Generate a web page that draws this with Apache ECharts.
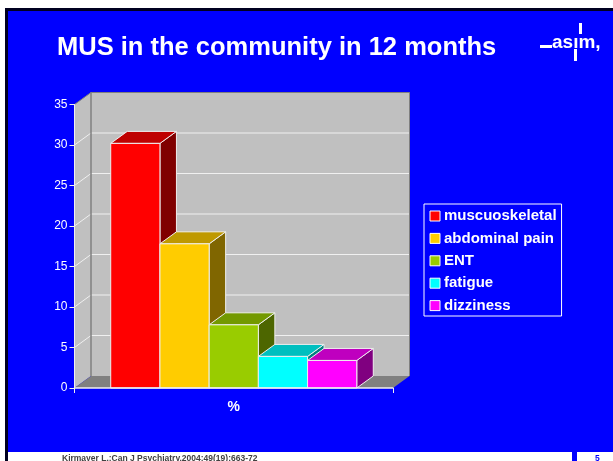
<!DOCTYPE html>
<html>
<head>
<meta charset="utf-8">
<style>html,body{margin:0;padding:0;background:#fff}#chart{width:613px;height:461px}</style>
<script src="https://cdn.jsdelivr.net/npm/echarts@6/dist/echarts.min.js"></script>
</head>
<body>
<div id="chart"></div>
<script>
// Symptom shares, percent of respondents over 12 months
const categories = ['%'];
const symptomNames = ['muscuoskeletal', 'abdominal pain', 'ENT', 'fatigue', 'dizziness'];
const symptomValues = [30.2, 17.8, 7.8, 3.9, 3.4];
const faceColors = ['#ff0000', '#ffcc00', '#99cc00', '#00ffff', '#ff00ff'];
const topColors = ['#bf0000', '#bf9900', '#739900', '#00bfbf', '#bf00bf'];
const sideColors = ['#800000', '#806600', '#4d6600', '#008080', '#800080'];
const yTicks = [0, 5, 10, 15, 20, 25, 30, 35];

// Oblique projection offset of the box depth
const DX = 16.5, DY = -12;
const FONT = '"Liberation Sans", Arial, sans-serif';
const EDGE = '#eeeeee';

function poly(points, fill, stroke, width) {
  return {
    type: 'polygon',
    shape: { points: points },
    style: { fill: fill, stroke: stroke || null, lineWidth: width || 0 }
  };
}
function line(x1, y1, x2, y2, stroke, width) {
  return {
    type: 'line',
    shape: { x1: x1, y1: y1, x2: x2, y2: y2 },
    style: { stroke: stroke, lineWidth: width }
  };
}

// Walls, floor and gridlines of the 3D box behind the bars
function renderBox(params, api) {
  const band = api.size([1, 0])[0];
  const cx = api.coord([0, 0])[0];
  const left = cx - band / 2, right = cx + band / 2;
  const y0 = api.coord([0, 0])[1];
  const yTop = api.coord([0, yTicks[yTicks.length - 1]])[1];
  const kids = [
    poly([[left + DX, yTop + DY], [right + DX, yTop + DY], [right + DX, y0 + DY], [left + DX, y0 + DY]], '#c0c0c0'),
    poly([[left, yTop], [left + DX, yTop + DY], [left + DX, y0 + DY], [left, y0]], '#c0c0c0'),
    poly([[left, y0], [left + DX, y0 + DY], [right + DX, y0 + DY], [right, y0]], '#808080')
  ];
  yTicks.slice(1, -1).forEach(function (t) {
    const y = api.coord([0, t])[1];
    kids.push(line(left, y, left + DX, y + DY, '#f0f0f0', 1));
    kids.push(line(left + DX, y + DY, right + DX, y + DY, '#f0f0f0', 1));
  });
  kids.push(line(left + DX, yTop + DY, left + DX, y0 + DY, '#808080', 1.5));
  kids.push(line(right + DX, yTop + DY, right + DX, y0 + DY, '#808080', 1));
  kids.push(line(left + DX, yTop + DY, right + DX, yTop + DY, '#808080', 1));
  kids.push(line(left, yTop, left + DX, yTop + DY, '#808080', 1));
  return { type: 'group', children: kids };
}

// One extruded bar: front, top and side faces
function barRenderer(index) {
  return function (params, api) {
    const band = api.size([1, 0])[0];
    const w = band * 0.1545;
    const base = api.coord([api.value(0), 0]);
    const top = api.coord([api.value(0), api.value(1)]);
    const x0 = base[0] + (index - symptomNames.length / 2) * w;
    const x1 = x0 + w;
    return {
      type: 'group',
      children: [
        poly([[x1, top[1]], [x1 + DX, top[1] + DY], [x1 + DX, base[1] + DY], [x1, base[1]]], sideColors[index], EDGE, 1),
        poly([[x0, top[1]], [x0 + DX, top[1] + DY], [x1 + DX, top[1] + DY], [x1, top[1]]], topColors[index], EDGE, 1),
        poly([[x0, top[1]], [x1, top[1]], [x1, base[1]], [x0, base[1]]], faceColors[index], EDGE, 1)
      ]
    };
  };
}

const barSeries = symptomNames.map(function (name, i) {
  return {
    name: name,
    type: 'custom',
    z: 5 + i,
    clip: false,
    silent: true,
    itemStyle: { color: faceColors[i] },
    renderItem: barRenderer(i),
    encode: { x: 0, y: 1 },
    data: [[categories[0], symptomValues[i]]]
  };
});

const chart = echarts.init(document.getElementById('chart'), null, { renderer: 'canvas' });
chart.setOption({
  animation: false,
  backgroundColor: '#ffffff',
  textStyle: { fontFamily: FONT },
  title: [
    {
      text: 'MUS in the community in 12 months',
      left: 57, top: 35, padding: 0,
      textStyle: { color: '#ffffff', fontSize: 25.5, fontWeight: 'bold', fontFamily: FONT }
    },
    {
      text: 'Kirmayer L.:Can J Psychiatry,2004:49(19):663-72',
      left: 62, top: 454, padding: 0,
      textStyle: { color: '#404040', fontSize: 8.5, fontWeight: 'bold', fontFamily: FONT }
    },
    {
      text: '5',
      left: 595, top: 454, padding: 0,
      textStyle: { color: '#0000ff', fontSize: 8.5, fontWeight: 'bold', fontFamily: FONT }
    }
  ],
  graphic: [
    // Slide frame and panel
    { type: 'rect', z: -10, shape: { x: 5, y: 8, width: 608, height: 453 }, style: { fill: '#000020' } },
    { type: 'rect', z: -9, shape: { x: 8, y: 11, width: 605, height: 441 }, style: { fill: '#0000ff' } },
    { type: 'rect', z: -9, shape: { x: 8, y: 452, width: 605, height: 9 }, style: { fill: '#ffffff' } },
    { type: 'rect', z: -9, shape: { x: 572, y: 452, width: 5, height: 9 }, style: { fill: '#0000ff' } },
    // Society logo
    { type: 'rect', z: 20, shape: { x: 540, y: 45, width: 12, height: 3 }, style: { fill: '#ffffff' } },
    { type: 'rect', z: 20, shape: { x: 579, y: 23, width: 3, height: 11 }, style: { fill: '#ffffff' } },
    { type: 'rect', z: 20, shape: { x: 574, y: 49, width: 3, height: 12 }, style: { fill: '#ffffff' } },
    {
      type: 'text', z: 20, x: 552, y: 33,
      style: { text: 'asım,', fill: '#ffffff', font: 'bold 19px ' + FONT }
    }
  ],
  legend: {
    data: symptomNames,
    orient: 'vertical',
    left: 424, top: 204,
    padding: [4, 5, 2.4, 5.5],
    itemGap: 6.4,
    itemWidth: 10,
    itemHeight: 10,
    icon: 'rect',
    selectedMode: false,
    borderColor: '#ffffff',
    borderWidth: 1,
    itemStyle: { borderColor: '#ffffff', borderWidth: 1 },
    textStyle: { color: '#ffffff', fontSize: 15, fontWeight: 'bold', fontFamily: FONT, padding: [0, 0, 0, -1], lineHeight: 16 }
  },
  grid: { left: 74.5, right: 220, top: 104.5, bottom: 73, containLabel: false },
  xAxis: {
    type: 'category',
    data: categories,
    axisLine: { lineStyle: { color: '#f0f0f0', width: 1.5 } },
    axisTick: { show: true, length: 5, lineStyle: { color: '#f0f0f0' } },
    axisLabel: { color: '#ffffff', fontSize: 14, fontWeight: 'bold', fontFamily: FONT, margin: 12 },
    z: 20
  },
  yAxis: {
    type: 'value',
    min: yTicks[0],
    max: yTicks[yTicks.length - 1],
    interval: 5,
    splitLine: { show: false },
    axisLine: { show: true, lineStyle: { color: '#f0f0f0', width: 1 } },
    axisTick: { show: true, length: 5, lineStyle: { color: '#f0f0f0' } },
    axisLabel: { color: '#ffffff', fontSize: 12, fontFamily: FONT, margin: 7 },
    z: 20
  },
  series: [
    {
      type: 'custom',
      z: 1,
      clip: false,
      silent: true,
      renderItem: renderBox,
      encode: { x: 0, y: 1 },
      data: [[categories[0], yTicks[0]]]
    }
  ].concat(barSeries)
});
</script>
</body>
</html>
